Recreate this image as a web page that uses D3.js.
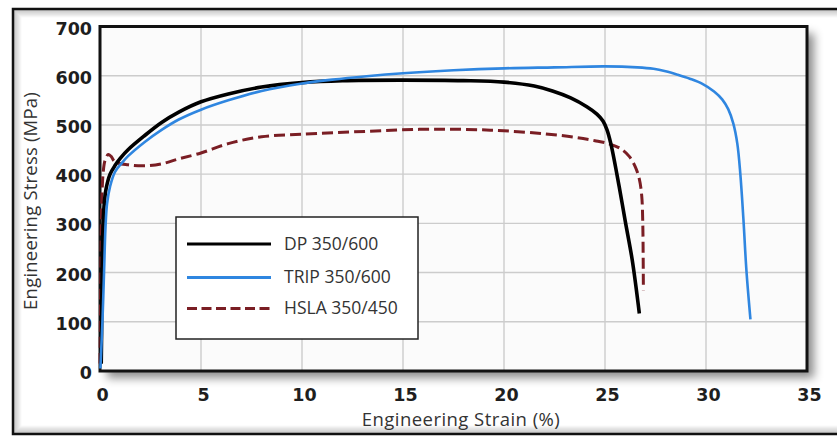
<!DOCTYPE html>
<html>
<head>
<meta charset="utf-8">
<script src="https://cdn.jsdelivr.net/npm/d3@7"></script>
<style>
  html, body { margin: 0; padding: 0; background: #fff; }
  svg { display: block; }
</style>
</head>
<body>
<svg id="chart" width="837" height="436"></svg>
<script>
// ---------------- data ----------------
const dpStrain = [0.06, 0.08, 0.1, 0.14, 0.2, 0.3, 0.5, 0.75, 1.0, 1.4, 2.2, 3.05, 3.9, 5, 6.35, 8, 10, 12, 15, 18, 20, 21.5, 22.4, 23.3, 24.1, 24.6, 24.9, 25.1, 25.3, 25.7, 26.0, 26.35, 26.7];
const dpStress = [15, 80, 180, 280, 335, 370, 400, 418, 432, 450, 478, 505, 526, 547, 563, 577, 586, 590, 591, 590, 587, 579, 569, 555, 537, 522, 508, 490, 460, 375, 305, 225, 117];

const tripStrain = [0.02, 0.12, 0.2, 0.27, 0.35, 0.5, 0.75, 1.07, 1.4, 2.2, 3.05, 3.9, 5, 6.35, 8, 10, 11.5, 13.2, 15, 17.5, 20, 22.5, 25, 26.6, 27.4, 28.0, 28.6, 29.2, 29.8, 30.4, 30.8, 31.1, 31.35, 31.55, 31.7, 31.85, 32.0, 32.2];
const tripStress = [5, 100, 200, 290, 340, 375, 405, 422, 437, 465, 490, 511, 531, 550, 569, 584, 592, 599, 605, 611, 615, 617, 619, 617, 614, 609, 602, 594, 584, 568, 552, 532, 503, 462, 400, 310, 205, 105];

const hslaStrain = [0.0, 0.03, 0.06, 0.1, 0.16, 0.25, 0.41, 0.55, 0.74, 1.4, 2.2, 3.05, 3.9, 5, 6.35, 8, 10, 13.2, 15.8, 18, 20, 22, 23.5, 24.5, 25.25, 25.8, 26.2, 26.5, 26.7, 26.82, 26.87, 26.89, 26.9];
const hslaStress = [15, 150, 280, 360, 405, 428, 440, 436, 425, 419, 417, 421, 431, 443, 462, 476, 481, 487, 491, 491, 488, 482, 475, 468, 461, 451, 436, 415, 390, 355, 300, 230, 164];

const seriesNames = ["DP 350/600", "TRIP 350/600", "HSLA 350/450"];
const xTicks = [0, 5, 10, 15, 20, 25, 30, 35];
const yTicks = [0, 100, 200, 300, 400, 500, 600, 700];
const xTitle = "Engineering Strain (%)";
const yTitle = "Engineering Stress (MPa)";

// ---------------- setup ----------------
const svg = d3.select("#chart");
const W = 837, H = 436;
const L = 100, R = 807, T = 26.5, B = 371;

const x = d3.scaleLinear().domain([0, 35]).range([L, R]);
const y = d3.scaleLinear().domain([0, 700]).range([B, T]);

const defs = svg.append("defs");
const f = defs.append("filter").attr("id", "shadow")
  .attr("x", "-10%").attr("y", "-10%").attr("width", "125%").attr("height", "130%");
f.append("feDropShadow").attr("dx", 7).attr("dy", 7).attr("stdDeviation", 5)
  .attr("flood-color", "#000").attr("flood-opacity", 0.45);

// outer frame with inner shading
svg.append("rect").attr("width", W).attr("height", H).attr("fill", "#fff");
const fx = 13, fy = 9, fw = 900, fh = 425;
for (let i = 8; i >= 1; i--) {
  svg.append("rect")
    .attr("x", fx + i).attr("y", fy + i)
    .attr("width", fw - 2 * i).attr("height", fh - 2 * i)
    .attr("fill", "none")
    .attr("stroke", "#000")
    .attr("stroke-opacity", 0.22 * (1 - i / 9))
    .attr("stroke-width", 1.2);
}
svg.append("rect").attr("x", fx).attr("y", fy).attr("width", fw).attr("height", fh)
  .attr("fill", "none").attr("stroke", "#111").attr("stroke-width", 2.5);

// plot background with drop shadow
svg.append("rect").attr("x", L).attr("y", T).attr("width", R - L).attr("height", B - T)
  .attr("fill", "#fbfbfb").attr("filter", "url(#shadow)");

// grid
const grid = svg.append("g").attr("stroke", "#cccccc").attr("stroke-width", 1.4);
grid.selectAll("line.v").data(xTicks.slice(1, -1)).join("line")
  .attr("x1", d => x(d)).attr("x2", d => x(d)).attr("y1", T).attr("y2", B);
grid.selectAll("line.h").data(yTicks.slice(1, -1)).join("line")
  .attr("y1", d => y(d)).attr("y2", d => y(d)).attr("x1", L).attr("x2", R);

// axes labels
const tickFont = "'DejaVu Sans', sans-serif";
const yAxis = svg.append("g").attr("transform", `translate(${L},2)`)
  .call(d3.axisLeft(y).tickValues(yTicks).tickSize(0).tickPadding(8).tickFormat(d3.format("d")));
const xAxis = svg.append("g").attr("transform", `translate(2,${B})`)
  .call(d3.axisBottom(x).tickValues(xTicks).tickSize(0).tickPadding(18).tickFormat(d3.format("d")));
[xAxis, yAxis].forEach(a => {
  a.select(".domain").remove();
  a.selectAll("text").attr("font-family", tickFont).attr("font-weight", "bold")
    .attr("font-size", 17.5).attr("fill", "#1e1e1e");
});

// plot border
svg.append("rect").attr("x", L).attr("y", T).attr("width", R - L).attr("height", B - T)
  .attr("fill", "none").attr("stroke", "#111").attr("stroke-width", 3);

// axis titles
const titleFont = "'Open Sans', sans-serif";
svg.append("text").attr("x", 461).attr("y", 426).attr("text-anchor", "middle")
  .attr("font-family", titleFont).attr("font-size", 18.5).attr("letter-spacing", 0.45)
  .attr("fill", "#333").text(xTitle);
svg.append("text").attr("transform", "translate(36.5,201) rotate(-90)").attr("text-anchor", "middle")
  .attr("font-family", titleFont).attr("font-size", 18.5).attr("letter-spacing", 0.2)
  .attr("fill", "#333").text(yTitle);

// curves
const line = d3.line().x(d => x(d[0])).y(d => y(d[1])).curve(d3.curveCatmullRom.alpha(0.5));
const zip = (a, b) => a.map((v, i) => [v, b[i]]);
const series = [
  { name: seriesNames[2], pts: zip(hslaStrain, hslaStress), color: "#7a1e24", width: 3, dash: "11,5" },
  { name: seriesNames[0], pts: zip(dpStrain, dpStress), color: "#000000", width: 3.6, dash: null },
  { name: seriesNames[1], pts: zip(tripStrain, tripStress), color: "#2f86e0", width: 2.6, dash: null }
];
svg.append("g").selectAll("path").data(series).join("path")
  .attr("d", d => line(d.pts))
  .attr("fill", "none")
  .attr("stroke", d => d.color)
  .attr("stroke-width", d => d.width)
  .attr("stroke-dasharray", d => d.dash)
  .attr("stroke-linejoin", "round");

// legend
const lg = svg.append("g");
lg.append("rect").attr("x", 176).attr("y", 217).attr("width", 242).attr("height", 122)
  .attr("fill", "#fff").attr("stroke", "#222").attr("stroke-width", 1.5);
const legendItems = [series[1], series[2], series[0]];
const ly = [244, 277.5, 308.5];
legendItems.forEach((s, i) => {
  lg.append("line").attr("x1", 187).attr("x2", 271).attr("y1", ly[i]).attr("y2", ly[i])
    .attr("stroke", s.color).attr("stroke-width", 3)
    .attr("stroke-dasharray", s.dash ? "10,4.5" : null);
  lg.append("text").attr("x", 284).attr("y", ly[i] + 5.5)
    .attr("font-family", titleFont).attr("font-size", 17.5).attr("fill", "#333")
    .text(s.name);
});
</script>
</body>
</html>
